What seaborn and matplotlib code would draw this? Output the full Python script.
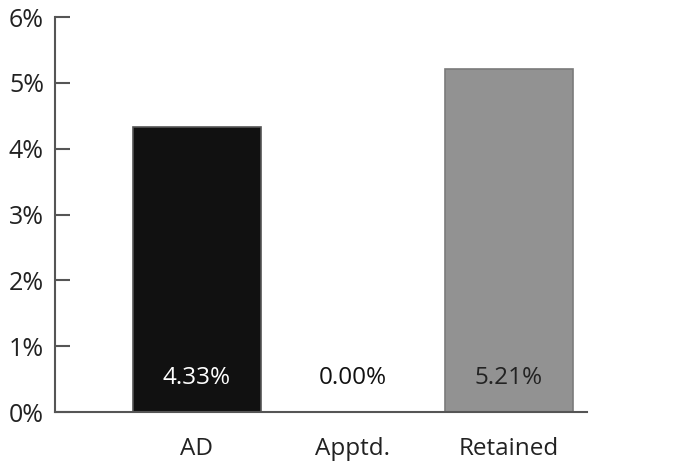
import numpy as np
import pandas as pd
import matplotlib
matplotlib.use("Agg")
import matplotlib.pyplot as plt
import seaborn as sns

categories = ["AD", "Apptd.", "Retained"]
values = [4.33, 0.00, 5.21]
bar_colors = ["#111111", "#ffffff", "#929292"]
edge_colors = ["#555555", "#ffffff", "#7a7a7a"]
label_colors = ["#ffffff", "#111111", "#222222"]
y_ticks = [0, 1, 2, 3, 4, 5, 6]

sns.set_style("white")
plt.rcParams["font.family"] = ["Open Sans", "DejaVu Sans"]

df = pd.DataFrame({"group": categories, "pct": values})

fig = plt.figure(figsize=(6.79, 4.61), dpi=100)
ax = fig.add_axes([0.081, 0.106, 0.7835, 0.857])

sns.barplot(data=df, x="group", y="pct", hue="group",
            palette=dict(zip(categories, bar_colors)),
            width=0.82, legend=False, ax=ax)
for patch, ec in zip(ax.patches, edge_colors):
    patch.set_edgecolor(ec)
    patch.set_linewidth(1.2)

for i, (v, c) in enumerate(zip(values, label_colors)):
    ax.text(i, 0.52, f"{v:.2f}%", ha="center", va="center",
            fontsize=17.5, color=c)

ax.set_ylim(0, 6)
ax.set_xlim(-0.91, 2.5)
ax.set_yticks(y_ticks)
ax.set_yticklabels([f"{t}%" for t in y_ticks])
ax.set_xlabel("")
ax.set_ylabel("")

for s in ["top", "right"]:
    ax.spines[s].set_visible(False)
for s in ["left", "bottom"]:
    ax.spines[s].set_color("#555555")
    ax.spines[s].set_linewidth(1.5)

ax.tick_params(axis="y", left=True, direction="in", length=11, width=1.5,
               color="#555555", labelsize=18, labelcolor="#222222", pad=8)
ax.tick_params(axis="x", bottom=False, length=0, labelsize=17.5,
               labelcolor="#222222", pad=18)

plt.savefig("out.png", dpi=100)
plt.close()
